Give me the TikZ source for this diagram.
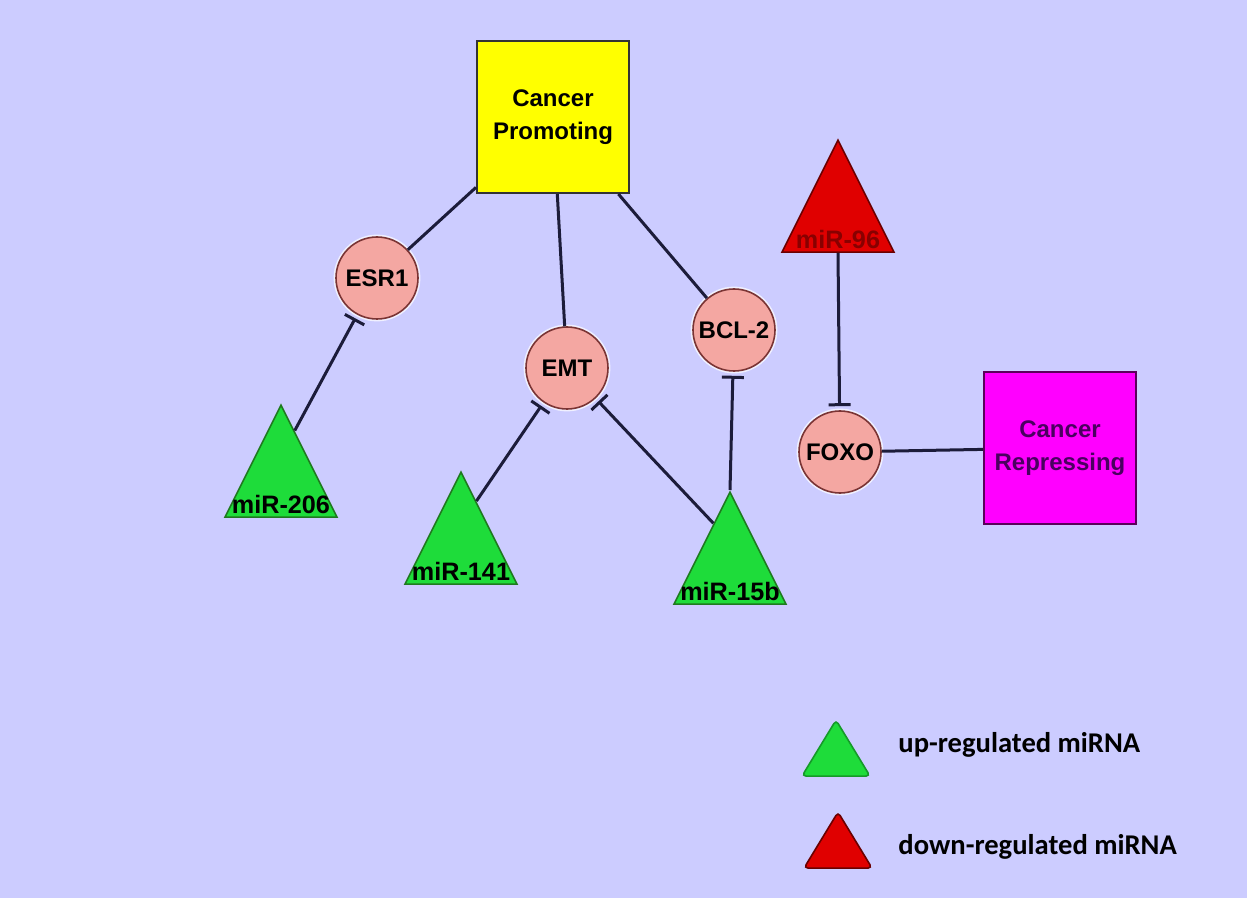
\documentclass[tikz,border=0pt]{standalone}
\usepackage{fontspec}
\setmainfont{Liberation Sans}
\newfontfamily\legendfont{Carlito}
\usetikzlibrary{shapes.geometric,arrows.meta,calc}
\definecolor{bgcol}{HTML}{CCCCFF}
\definecolor{linecol}{HTML}{1C1C3A}
\definecolor{genefill}{HTML}{F4A7A2}
\definecolor{genedraw}{HTML}{7A3434}
\definecolor{upfill}{HTML}{1EDC3A}
\definecolor{updraw}{HTML}{1F7A1F}
\definecolor{downfill}{HTML}{E00000}
\definecolor{downdraw}{HTML}{6A0000}
\definecolor{promfill}{HTML}{FFFF00}
\definecolor{repfill}{HTML}{FF00FF}
\definecolor{repdraw}{HTML}{5A005A}
\definecolor{reptext}{HTML}{4A0060}
\begin{document}
\begin{tikzpicture}[x=0.5pt,y=-0.5pt,
  lbl/.style={font=\fontsize{12}{16.5}\selectfont\bfseries, inner sep=0pt},
  mirlbl/.style={font=\fontsize{12.6}{15}\selectfont\bfseries, inner sep=0pt, anchor=base},
  gene/.style={circle, minimum size=41pt, inner sep=0pt, fill=genefill,
    draw=genedraw, line width=0.8pt,
    preaction={draw=white!70!bgcol, line width=2.4pt}, lbl},
  sqbox/.style={rectangle, minimum size=76pt, inner sep=0pt, line width=1pt, lbl, align=center},
  tri/.style={isosceles triangle, isosceles triangle stretches, shape border rotate=90,
    minimum width=56pt, minimum height=56pt, inner sep=0pt, anchor=apex, line width=0.8pt},
  uptri/.style={tri, fill=upfill, draw=updraw},
  downtri/.style={tri, fill=downfill, draw=downdraw},
  keytri/.style={isosceles triangle, isosceles triangle stretches, shape border rotate=90,
    minimum width=34pt, minimum height=28pt, inner sep=0pt, anchor=apex,
    rounded corners=2pt, line width=0.8pt},
  link/.style={draw=linecol, line width=1.5pt},
  inhib/.style={link, -{Bar[width=11pt, line width=1.5pt]}, shorten >=2pt},
  keytext/.style={font=\legendfont\fontsize{14.3}{16}\selectfont\bfseries, anchor=west, inner sep=0pt}
]
% background
\fill[bgcol] (0,0) rectangle (1247,898);
\useasboundingbox (0,0) rectangle (1247,898);

% phenotype boxes
\node[sqbox, fill=promfill, draw=black!80] (cp) at (553,117) {Cancer\\Promoting};
\node[sqbox, fill=repfill, draw=repdraw, text=reptext] (cr) at (1060,448) {Cancer\\Repressing};

% target genes
\node[gene] (esr1) at (377,278) {ESR1};
\node[gene] (emt)  at (567,368) {EMT};
\node[gene] (bcl2) at (734,330) {BCL-2};
\node[gene] (foxo) at (840,452) {FOXO};

% miRNAs
\node[uptri] (t206) at (281,403) {};
\node[mirlbl] at ([yshift=2pt]t206.lower side) {miR-206};
\node[uptri] (t141) at (461,470) {};
\node[mirlbl] at ([yshift=2pt]t141.lower side) {miR-141};
\node[uptri] (t15b) at (730,490) {};
\node[mirlbl] at ([yshift=2pt]t15b.lower side) {miR-15b};
\node[downtri] (t96) at (838,138) {};
\node[mirlbl, text=downdraw!80!red] at ([yshift=2pt]t96.lower side) {miR-96};

% points on the triangle sides where the repression lines leave
\coordinate (s206) at ($(t206.apex)!0.24!(t206.right corner)$);
\coordinate (s141) at ($(t141.apex)!0.27!(t141.right corner)$);
\coordinate (s15b) at ($(t15b.apex)!0.29!(t15b.left corner)$);

% associations
\draw[link] (cp) -- (esr1);
\draw[link] (cp) -- (emt);
\draw[link] (cp) -- (bcl2);
\draw[link] (foxo) -- (cr);

% repression
\draw[inhib] (s206) -- (esr1);
\draw[inhib] (s141) -- (emt);
\draw[inhib] (s15b) -- (emt);
\draw[inhib] (t15b.apex) -- (bcl2);
\draw[inhib] (t96.lower side) -- (foxo);

% legend
\node[keytri, fill=upfill, draw=upfill!70!black] (kup) at (836,718) {};
\node[keytext] (kuptext) at (898,745) {up-regulated miRNA};
\node[keytri, fill=downfill, draw=downdraw] (kdown) at (838,810) {};
\node[keytext] (kdowntext) at (898,847) {down-regulated miRNA};
\end{tikzpicture}
\end{document}
